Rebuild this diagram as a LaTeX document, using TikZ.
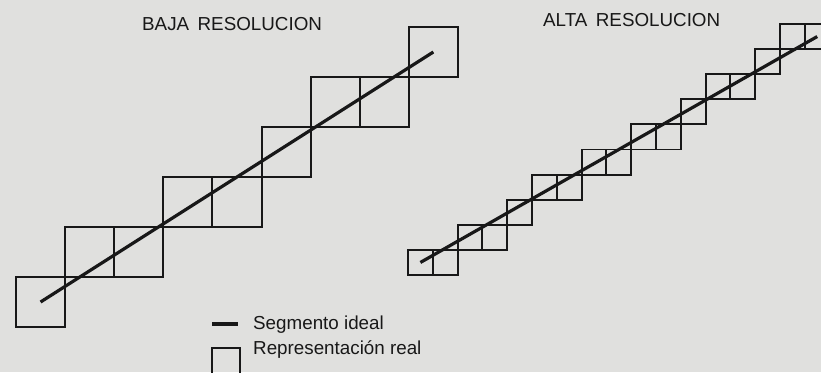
\documentclass[tikz,border=0pt]{standalone}
\usepackage{fontspec}
\setmainfont{Liberation Sans}
\definecolor{bgpaper}{RGB}{224,224,222}
\definecolor{ink}{RGB}{24,24,24}
\begin{document}
\begin{tikzpicture}[x=1pt,y=-1pt,
  lowsq/.style={draw=ink,line width=2pt,rectangle,inner sep=0pt,minimum width=49.1pt,minimum height=50pt},
  highsq/.style={draw=ink,line width=1.9pt,rectangle,inner sep=0pt,minimum width=24.8pt,minimum height=25.1pt},
  ideal/.style={draw=ink,line width=3.2pt},
  lbl/.style={inner sep=0pt,anchor=base west,text=ink,font=\fontsize{18.8}{22}\selectfont}]
\fill[bgpaper] (0,0) rectangle (821,372);
\useasboundingbox (0,0) rectangle (821,372);
% titles
\node[lbl] (t1) at (142,30) {BAJA\hspace{0.45em}RESOLUCION};
\node[lbl] (t2) at (543,26) {ALTA\hspace{0.45em}RESOLUCION};
% low resolution squares
\foreach \n/\c/\r in {0/0/0,1/1/1,2/2/1,3/3/2,4/4/2,5/5/3,6/6/4,7/7/4,8/8/5}{
  \node[lowsq] (l\n) at ({16+(\c+0.5)*49.1},{327-(\r+0.5)*50}) {};
}
\draw[ideal] (l0.center) -- (l8.center);
% high resolution squares
\foreach \n/\c/\r in {0/0/0,1/1/0,2/2/1,3/3/1,4/4/2,5/5/3,6/6/3,7/7/4,8/8/4,9/9/5,10/10/5,11/11/6,12/12/7,13/13/7,14/14/8,15/15/9,16/16/9}{
  \node[highsq] (h\n) at ({408+(\c+0.5)*24.8},{275-(\r+0.5)*25.1}) {};
}
\draw[ideal] (h0.center) -- (h16.center);
% legend
\coordinate (la) at (212,324);
\coordinate (lb) at (238,324);
\draw[ideal,line width=3.4pt] (la) -- (lb);
\node[lbl] (seg) at (253,329) {Segmento ideal};
\node[draw=ink,line width=2pt,rectangle,inner sep=0pt,minimum width=28pt,minimum height=30pt] (lsq) at (226,363) {};
\node[lbl] (rep) at (253,354) {Representación real};
\end{tikzpicture}
\end{document}
